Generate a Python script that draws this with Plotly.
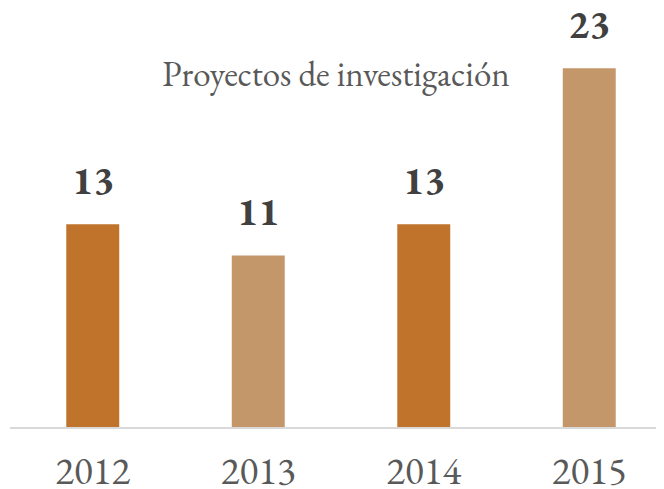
import plotly.graph_objects as go

years = ["2012", "2013", "2014", "2015"]
values = [13, 11, 13, 23]
bar_colors = ["#C0732A", "#C4976B", "#C0732A", "#C4976B"]

SERIF = "EB Garamond, Garamond, Liberation Serif, DejaVu Serif, serif"

fig = go.Figure()
fig.add_trace(go.Bar(
    x=years, y=values,
    marker=dict(color=bar_colors, line=dict(width=0)),
    width=0.32,
    hoverinfo="skip",
))

for i, v in enumerate(values):
    fig.add_annotation(
        x=i, y=v, xref="x", yref="y", text=f"<b>{v}</b>", showarrow=False,
        yanchor="bottom", yshift=16,
        font=dict(family=SERIF, size=40, color="#404040"),
    )

fig.update_layout(
    width=664, height=489,
    margin=dict(l=2, r=0, t=2, b=70, autoexpand=False),
    paper_bgcolor="white", plot_bgcolor="white",
    showlegend=False,
    title=dict(
        text="Proyectos de investigación",
        x=0.494, xanchor="center", y=0.865, yanchor="middle",
        font=dict(family=SERIF, size=35, color="#595959"),
    ),
    xaxis=dict(
        type="category", automargin=False,
        range=[-0.5, 3.5],
        showline=True, linecolor="#D9D9D9", linewidth=2,
        showgrid=False, ticks="",
        tickfont=dict(family=SERIF, size=39, color="#595959"),
        ticklabelstandoff=8,
    ),
    yaxis=dict(
        range=[0, 417 / 15.6], automargin=False,
        visible=False, showgrid=False, zeroline=False,
    ),
)

fig.write_html("out.html")
